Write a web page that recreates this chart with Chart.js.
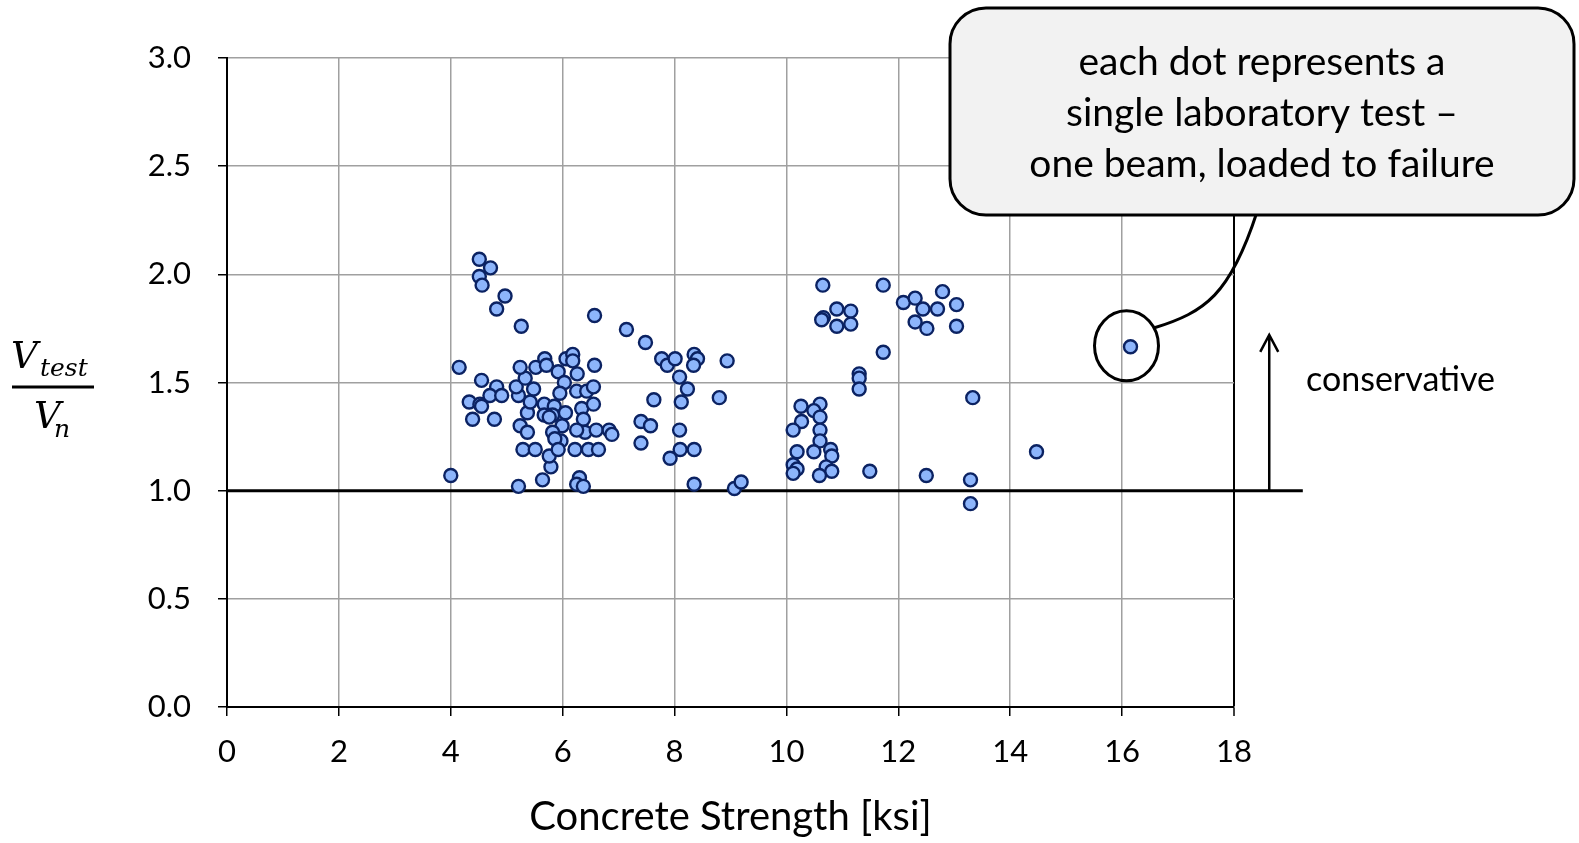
<!DOCTYPE html>
<html>
<head>
<meta charset="utf-8">
<title>Vtest / Vn vs concrete strength</title>
<script src="https://cdn.jsdelivr.net/npm/chart.js@4.4.1/dist/chart.umd.min.js"></script>
<style>
  body { margin: 0; background: #fff; }
  #chart { display: block; }
</style>
</head>
<body>
<canvas id="chart" width="1579" height="843"></canvas>
<script>
// one entry per beam test
const strengthKsi = [
  4.51, 4.71, 4.51, 4.56, 4.97, 4.82, 5.26, 4.15, 4.55, 4.82, 4.70, 4.91, 4.33, 4.52, 4.55, 4.39, 4.78,
  4.00, 5.21, 5.64, 5.79, 5.76, 5.29, 5.51, 5.24, 5.37, 5.37, 5.42, 5.21, 5.17, 5.33, 5.24, 5.48, 5.52,
  5.68, 5.71, 5.92, 6.03, 5.95, 5.67, 5.85, 5.82, 5.67, 5.76, 6.05, 5.99, 5.82, 5.97, 5.86, 5.92,
  6.06, 6.18, 6.18, 6.26, 6.25, 6.43, 6.55, 6.34, 6.55, 6.37, 6.40, 6.25, 6.22, 6.46, 6.60, 6.57, 6.57,
  6.30, 6.25, 6.37, 6.64, 6.83, 6.88,
  7.14, 7.48, 7.77, 7.87, 8.01, 8.35, 8.41, 8.34, 8.94, 8.09, 8.23, 8.12, 7.63, 8.80, 7.40, 7.57, 7.40,
  8.09, 8.10, 8.35, 7.92, 8.35, 9.07, 9.19,
  10.65, 11.73, 10.90, 11.15, 10.66, 10.63, 10.90, 11.15, 11.73, 11.30, 11.30, 11.30,
  12.09, 12.30, 12.44, 12.70, 12.79, 13.04, 12.30, 12.51, 13.04, 13.33,
  10.26, 10.60, 10.49, 10.60, 10.27, 10.12, 10.60, 10.60, 10.19, 10.49, 10.79, 10.81, 10.12, 10.19,
  10.12, 10.71, 10.81, 10.59, 11.49, 12.50, 13.29, 13.29, 14.47, 16.15
];
const ratioVtestVn = [
  2.07, 2.03, 1.99, 1.95, 1.90, 1.84, 1.76, 1.57, 1.51, 1.48, 1.44, 1.44, 1.41, 1.40, 1.39, 1.33, 1.33,
  1.07, 1.02, 1.05, 1.11, 1.16, 1.19, 1.19, 1.30, 1.27, 1.36, 1.41, 1.44, 1.48, 1.52, 1.57, 1.47, 1.57,
  1.61, 1.58, 1.55, 1.50, 1.45, 1.40, 1.39, 1.35, 1.35, 1.34, 1.36, 1.30, 1.27, 1.23, 1.24, 1.19,
  1.61, 1.63, 1.60, 1.54, 1.46, 1.46, 1.48, 1.38, 1.40, 1.33, 1.27, 1.28, 1.19, 1.19, 1.28, 1.58, 1.81,
  1.06, 1.03, 1.02, 1.19, 1.28, 1.26,
  1.745, 1.685, 1.61, 1.58, 1.61, 1.63, 1.61, 1.58, 1.60, 1.525, 1.47, 1.41, 1.42, 1.43, 1.32, 1.30, 1.22,
  1.28, 1.19, 1.19, 1.15, 1.03, 1.01, 1.04,
  1.95, 1.95, 1.84, 1.83, 1.80, 1.79, 1.76, 1.77, 1.64, 1.54, 1.52, 1.47,
  1.87, 1.89, 1.84, 1.84, 1.92, 1.86, 1.78, 1.75, 1.76, 1.43,
  1.39, 1.40, 1.37, 1.34, 1.32, 1.28, 1.28, 1.23, 1.18, 1.18, 1.19, 1.16, 1.12, 1.10,
  1.08, 1.11, 1.09, 1.07, 1.09, 1.07, 1.05, 0.94, 1.18, 1.665
];

const xTickValues = [0, 2, 4, 6, 8, 10, 12, 14, 16, 18];
const yTickValues = [0, 0.5, 1, 1.5, 2, 2.5, 3];

// Vtest/Vn = 1 reference line, runs past the plot edge
const limitX = [0, 19.23];
const limitY = [1, 1];

const arrowX = 18.63;
const arrowTop = 1.72;
const calloutLines = ['each dot represents a', 'single laboratory test \u2013', 'one beam, loaded to failure'];
const highlightIndex = strengthKsi.length - 1;

const font = 'Lato';

const annotations = {
  id: 'annotations',
  afterDraw(chart) {
    const ctx = chart.ctx;
    const xs = chart.scales.x, ys = chart.scales.y;
    ctx.save();
    ctx.fillStyle = '#000';
    ctx.strokeStyle = '#000';

    // y title: V_test / V_n
    ctx.textAlign = 'left';
    ctx.textBaseline = 'alphabetic';
    ctx.font = 'italic 37px "DejaVu Serif"';
    ctx.fillText('V', 11, 368);
    ctx.fillText('V', 34, 428);
    ctx.font = 'italic 25px "DejaVu Serif"';
    ctx.fillText('test', 40, 376);
    ctx.fillText('n', 54, 437);
    ctx.lineWidth = 3;
    ctx.beginPath();
    ctx.moveTo(12, 387);
    ctx.lineTo(94, 387);
    ctx.stroke();

    // arrow + label
    const ax = xs.getPixelForValue(arrowX);
    const ay0 = ys.getPixelForValue(1);
    const ay1 = ys.getPixelForValue(arrowTop);
    ctx.lineWidth = 2.5;
    ctx.beginPath();
    ctx.moveTo(ax, ay0);
    ctx.lineTo(ax, ay1);
    ctx.moveTo(ax - 9, ay1 + 17);
    ctx.lineTo(ax, ay1);
    ctx.lineTo(ax + 9, ay1 + 17);
    ctx.stroke();
    ctx.font = '34px ' + font;
    ctx.textBaseline = 'middle';
    ctx.fillText('conservative', 1306, ys.getPixelForValue(1.5) - 2);

    // circle round the called-out test and the tail to the box
    const px = xs.getPixelForValue(strengthKsi[highlightIndex]) - 4;
    const py = ys.getPixelForValue(ratioVtestVn[highlightIndex]) - 1;
    ctx.lineWidth = 3;
    ctx.beginPath();
    ctx.ellipse(px, py, 32, 35, 0, 0, Math.PI * 2);
    ctx.stroke();
    ctx.beginPath();
    ctx.moveTo(px + 28, py - 18);
    ctx.bezierCurveTo(1205, 312, 1230, 295, 1257, 212);
    ctx.stroke();

    // callout box
    ctx.beginPath();
    ctx.roundRect(950, 8, 624, 207, 36);
    ctx.fillStyle = '#f2f2f2';
    ctx.fill();
    ctx.lineWidth = 3;
    ctx.stroke();
    ctx.fillStyle = '#000';
    ctx.textAlign = 'center';
    ctx.font = '39px ' + font;
    calloutLines.forEach((t, i) => ctx.fillText(t, 1262, 62 + i * 51));
    ctx.restore();
  }
};

const points = strengthKsi.map((x, i) => ({ x: x, y: ratioVtestVn[i] }));
const limitLine = limitX.map((x, i) => ({ x: x, y: limitY[i] }));

new Chart(document.getElementById('chart').getContext('2d'), {
  type: 'scatter',
  data: {
    datasets: [{
      label: 'tests',
      data: points,
      pointRadius: 6.5,
      pointHoverRadius: 6.5,
      pointBackgroundColor: '#8db5fb',
      pointBorderColor: '#0b2262',
      pointBorderWidth: 2.4,
      order: 1
    }, {
      type: 'line',
      label: 'limit',
      data: limitLine,
      borderColor: '#000',
      borderWidth: 3,
      pointRadius: 0,
      clip: false,
      order: 2
    }]
  },
  options: {
    responsive: false,
    devicePixelRatio: 1,
    animation: false,
    layout: { padding: { left: 0, top: 58, right: 345, bottom: 0 } },
    plugins: {
      legend: { display: false },
      tooltip: { enabled: false }
    },
    scales: {
      x: {
        type: 'linear',
        min: 0,
        max: 18,
        afterFit: s => { s.height = 136; },
        afterBuildTicks: s => { s.ticks = xTickValues.map(v => ({ value: v })); },
        grid: {
          color: c => (c.tick && c.tick.value === 18 ? '#000' : '#a0a0a0'),
          lineWidth: c => (c.tick && c.tick.value === 18 ? 2 : 1.5),
          tickColor: '#000',
          tickLength: 9,
          tickWidth: 1.5
        },
        border: { color: '#000', width: 2 },
        ticks: {
          padding: 17,
          color: '#000',
          font: { family: font, size: 31 },
          callback: v => String(v)
        },
        title: {
          display: true,
          text: 'Concrete Strength [ksi]',
          color: '#000',
          font: { family: font, size: 40 },
          padding: { top: 0, bottom: 2 }
        }
      },
      y: {
        type: 'linear',
        min: 0,
        max: 3,
        afterFit: s => { s.width = 227; },
        afterBuildTicks: s => { s.ticks = yTickValues.map(v => ({ value: v })); },
        grid: {
          color: '#a0a0a0',
          lineWidth: 1.5,
          tickColor: '#000',
          tickLength: 9,
          tickWidth: 1.5
        },
        border: { color: '#000', width: 2 },
        ticks: {
          padding: 27,
          color: '#000',
          font: { family: font, size: 31 },
          callback: v => Number(v).toFixed(1)
        }
      }
    }
  },
  plugins: [annotations]
});
</script>
</body>
</html>
